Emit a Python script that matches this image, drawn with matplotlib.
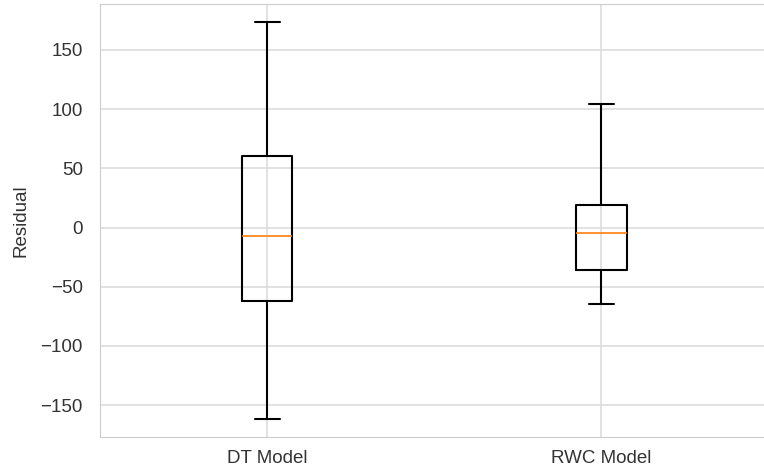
import matplotlib
matplotlib.use("Agg")
import matplotlib.pyplot as plt
import seaborn as sns

# Box statistics
models = ["DT Model", "RWC Model"]
whisker_low = [-162, -65]
q1 = [-62, -36]
medians = [-7, -5]
q3 = [60, 19]
whisker_high = [174, 104]

sns.set_style("whitegrid")
plt.rcParams['font.family'] = ['Liberation Sans', 'DejaVu Sans']

stats = []
for i, name in enumerate(models):
    stats.append({
        "label": name,
        "whislo": whisker_low[i],
        "q1": q1[i],
        "med": medians[i],
        "q3": q3[i],
        "whishi": whisker_high[i],
        "fliers": [],
    })

fig = plt.figure(figsize=(7.64, 4.72), dpi=100)
ax = fig.add_axes([0.131, 0.074, 0.875, 0.918])

ax.bxp(stats, showfliers=False,
       boxprops=dict(color="black", linewidth=1.5),
       whiskerprops=dict(color="black", linewidth=1.5),
       capprops=dict(color="black", linewidth=1.5),
       medianprops=dict(color="#ff7f0e", linewidth=1.2))

ax.set_ylim(-177, 189)
ax.set_xlim(0.5, 2.5)
ax.set_yticks([-150, -100, -50, 0, 50, 100, 150])
ax.set_ylabel("Residual", fontsize=13.5, color="#333333", labelpad=8)
ax.tick_params(axis="y", labelsize=13.5, colors="#333333", pad=9)
ax.tick_params(axis="x", labelsize=13.5, colors="#333333", pad=6)
ax.grid(True, color="#dddddd", linewidth=1.2)

plt.savefig("out.png", dpi=100)
